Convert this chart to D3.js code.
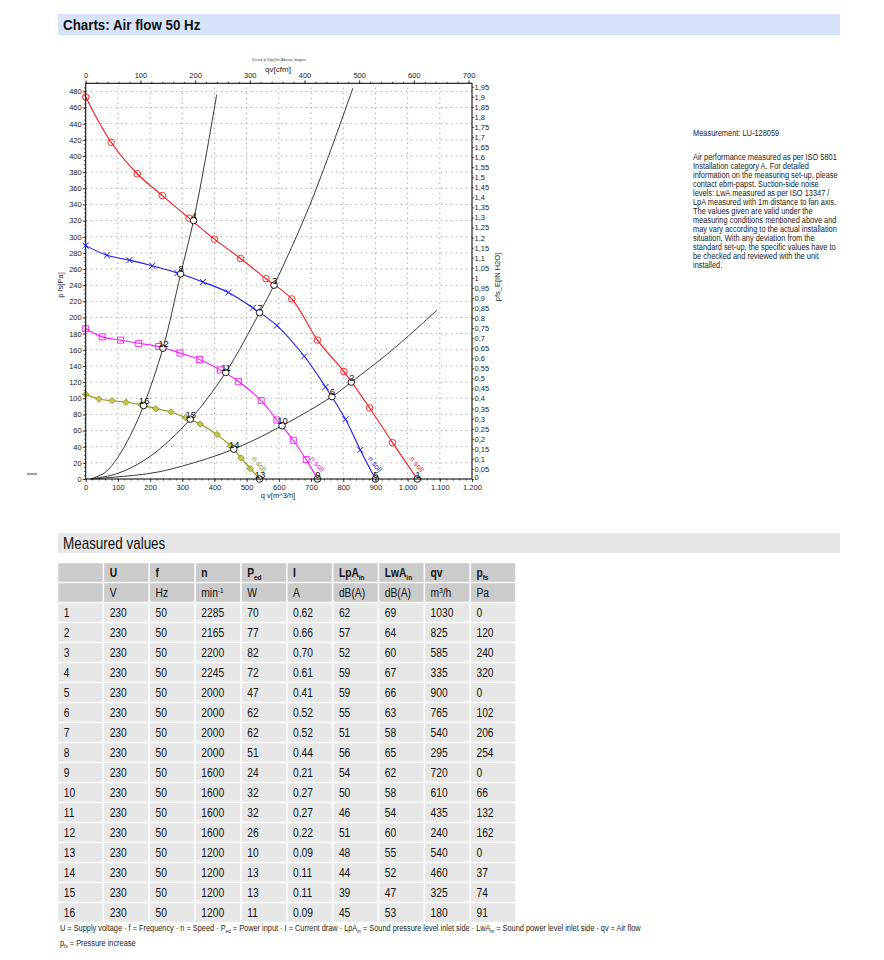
<!DOCTYPE html>
<html>
<head>
<meta charset="utf-8">
<script src="https://cdn.jsdelivr.net/npm/d3@7/dist/d3.min.js"></script>
<style>
body{margin:0;background:#fff;}
svg text{font-family:"Liberation Sans",Arial,sans-serif;}
</style>
</head>
<body>
<div id="chart"></div>
<script>
// fan curves [qv m3/h, pfs Pa]
var curveRed = [[0,473],[79,417],[160,378],[238,351],[321,323],[400,297],[481,273],[560,248],[640,223],[720,172],[802,133],[882,88],[953,45],[1030,0]];
var curveBlue = [[0,289],[66,277],[136,271],[207,264],[285,255],[364,244],[443,231],[519,212],[594,190],[679,152],[745,114],[807,74],[853,36],[900,0]];
var curveMagenta = [[0,186],[51,176],[108,172],[165,168],[227,164],[293,156],[353,148],[418,135],[474,121],[545,97],[594,73],[645,48],[685,24],[720,0]];
var curveOlive = [[0,105],[41,99],[82,97],[125,95],[172,92],[218,87],[265,83],[311,76],[356,68],[408,55],[450,41],[483,26],[511,13],[540,0]];

// system curves
var sysSteep = [[15,0],[60,8],[100,27],[140,55],[180,91],[240,162],[295,254],[335,320],[370,392],[407,476]];
var sysMid = [[15,0],[100,7],[200,28],[325,74],[435,132],[540,206],[585,240],[700,343],[830,484]];
var sysFlat = [[15,0],[200,7],[300,16],[460,37],[610,66],[765,102],[825,120],[950,159],[1091,209]];

// measured values table
var pointNo = [1,2,3,4,5,6,7,8,9,10,11,12,13,14,15,16];
var voltU = [230,230,230,230,230,230,230,230,230,230,230,230,230,230,230,230];
var freqF = [50,50,50,50,50,50,50,50,50,50,50,50,50,50,50,50];
var speedN = [2285,2165,2200,2245,2000,2000,2000,2000,1600,1600,1600,1600,1200,1200,1200,1200];
var powerPed = [70,77,82,72,47,62,62,51,24,32,32,26,10,13,13,11];
var currentI = ["0.62","0.66","0.70","0.61","0.41","0.52","0.52","0.44","0.21","0.27","0.27","0.22","0.09","0.11","0.11","0.09"];
var lpaIn = [62,57,52,59,59,55,51,56,54,50,46,51,48,44,39,45];
var lwaIn = [69,64,60,67,66,63,58,65,62,58,54,60,55,52,47,53];
var qvVals = [1030,825,585,335,900,765,540,295,720,610,435,240,540,460,325,180];
var pfsVals = [0,120,240,320,0,102,206,254,0,66,132,162,0,37,74,91];

var xTicks = [0,100,200,300,400,500,600,700,800,900,1000,1100,1200];
var cfmTicks = [0,100,200,300,400,500,600,700];

var infoLines = [
	"Air performance measured as per ISO 5801",
	"Installation category A. For detailed",
	"information on the measuring set-up, please",
	"contact ebm-papst. Suction-side noise",
	"levels: LwA measured as per ISO 13347 /",
	"LpA measured with 1m distance to fan axis.",
	"The values given are valid under the",
	"measuring conditions mentioned above and",
	"may vary according to the actual installation",
	"situation. With any deviation from the",
	"standard set-up, the specific values have to",
	"be checked and reviewed with the unit",
	"installed."
];

var svg = d3.select('#chart').append('svg')
	.attr('width',884)
	.attr('height',960);
svg.append('rect').attr('width',884).attr('height',960).attr('fill','#fff');

var de = d3.formatLocale({decimal:',',thousands:'.',grouping:[3],currency:['','']});

var x = d3.scaleLinear().domain([0,1200]).range([85.7,472]);
var y = d3.scaleLinear().domain([0,490]).range([479,83.3]);
var xCfm = d3.scaleLinear().domain([0,1200/1.699]).range(x.range());
var yIn = d3.scaleLinear().domain([0,490/249.09]).range(y.range());

// condensed text: no narrow face installed, so squeeze horizontally
function narrow(parent,px,py,size,sx){
	return parent.append('text')
		.attr('transform','translate('+px+','+py+') scale('+sx+',1)')
		.attr('font-size',size+'px').attr('fill','#111');
}

// header bars
svg.append('rect').attr('x',58).attr('y',14).attr('width',782).attr('height',21).attr('fill','#d6e3f8');
narrow(svg,63,30,15,0.89).attr('font-weight','bold').text('Charts: Air flow 50 Hz');

svg.append('rect').attr('x',58).attr('y',533).attr('width',782).attr('height',20).attr('fill','#e7e7e7');
narrow(svg,63,549,16,0.84).text('Measured values');

svg.append('line').attr('x1',27).attr('x2',37).attr('y1',474).attr('y2',474).attr('stroke','#444');

// chart
var plot = svg.append('g');

plot.append('g').selectAll('line').data(d3.range(100,1200,100)).enter().append('line')
	.attr('x1',function(d){return x(d);}).attr('x2',function(d){return x(d);})
	.attr('y1',y(0)).attr('y2',y.range()[1])
	.attr('stroke','#999').attr('stroke-width',0.8).attr('stroke-dasharray','1.5,3.5');
plot.append('g').selectAll('line').data(d3.range(20,490,20)).enter().append('line')
	.attr('y1',function(d){return y(d);}).attr('y2',function(d){return y(d);})
	.attr('x1',x(0)).attr('x2',x(1200))
	.attr('stroke','#999').attr('stroke-width',0.8).attr('stroke-dasharray','1.5,3.5');

var line = d3.line()
	.x(function(d){return x(d[0]);})
	.y(function(d){return y(d[1]);})
	.curve(d3.curveCatmullRom.alpha(0.5));

[sysSteep,sysMid,sysFlat].forEach(function(s){
	plot.append('path').attr('d',line(s)).attr('fill','none').attr('stroke','#3a3a3a').attr('stroke-width',1);
});

var fans = [
	{data:curveRed,color:'#ff1a1a',marker:'circle'},
	{data:curveBlue,color:'#1a1aff',marker:'cross'},
	{data:curveMagenta,color:'#ff1aff',marker:'square'},
	{data:curveOlive,color:'#8f8f00',marker:'diamond'}
];

fans.forEach(function(f){
	plot.append('path').attr('d',line(f.data)).attr('fill','none').attr('stroke',f.color).attr('stroke-width',1.1);
	var m = plot.append('g').selectAll('g').data(f.data.slice(0,-1)).enter().append('g')
		.attr('transform',function(d){return 'translate('+x(d[0])+','+y(d[1])+')';});
	if(f.marker==='circle'){
		m.append('circle').attr('r',3.3).attr('fill','none').attr('stroke',f.color).attr('stroke-width',0.9);
		m.append('line').attr('x1',-2).attr('y1',-2).attr('x2',2).attr('y2',2).attr('stroke',f.color).attr('stroke-width',0.8);
	} else if(f.marker==='cross'){
		m.append('path').attr('d','M-3,-3L3,3M-3,3L3,-3').attr('stroke',f.color).attr('stroke-width',1);
	} else if(f.marker==='square'){
		m.append('rect').attr('x',-3).attr('y',-3).attr('width',6).attr('height',6)
			.attr('fill','none').attr('stroke',f.color).attr('stroke-width',0.9);
	} else {
		m.append('path').attr('d','M0,-3.2L3.2,0L0,3.2L-3.2,0Z')
			.attr('fill','#c4c45a').attr('stroke',f.color).attr('stroke-width',0.8);
	}
	// rotated curve tag near the zero-pressure end
	var end = f.data[f.data.length-1];
	plot.append('text')
		.attr('transform','translate('+(x(end[0])-8)+','+(y(26)+1)+') rotate(50)')
		.attr('font-size','7.5px').attr('fill',f.color)
		.text('n soll');
});

// measured operating points
var pts = plot.append('g').selectAll('g').data(pointNo).enter().append('g')
	.attr('transform',function(d,i){return 'translate('+x(qvVals[i])+','+y(pfsVals[i])+')';});
pts.append('circle').attr('r',3.3).attr('fill','#fff').attr('stroke','#000').attr('stroke-width',0.9);
pts.append('text').attr('x',0.5).attr('y',-1.5)
	.attr('text-anchor','middle').attr('font-size','9.5px').attr('fill','#111')
	.text(function(d){return d;});

// axes
function styleAxis(g){
	g.select('.domain').remove();
	g.selectAll('line').attr('stroke','#222').attr('stroke-width',0.8);
	g.selectAll('text').attr('font-size','7.5px').attr('fill','#222').attr('font-family',null);
}

var axBottom = plot.append('g').attr('transform','translate(0,'+y(0)+')')
	.call(d3.axisBottom(x).tickValues(xTicks).tickSize(3).tickPadding(2.5).tickFormat(de.format(',')));
styleAxis(axBottom);
var axBottomMinor = plot.append('g').attr('transform','translate(0,'+y(0)+')')
	.call(d3.axisBottom(x).tickValues(d3.range(0,1201,20)).tickSize(1.5).tickFormat(''));
styleAxis(axBottomMinor);

var axTop = plot.append('g').attr('transform','translate(0,'+y.range()[1]+')')
	.call(d3.axisTop(xCfm).tickValues(cfmTicks).tickSize(3).tickPadding(2));
styleAxis(axTop);
var axTopMinor = plot.append('g').attr('transform','translate(0,'+y.range()[1]+')')
	.call(d3.axisTop(xCfm).tickValues(d3.range(0,701,20)).tickSize(1.5).tickFormat(''));
styleAxis(axTopMinor);

var axLeft = plot.append('g').attr('transform','translate('+x(0)+',0)')
	.call(d3.axisLeft(y).tickValues(d3.range(0,481,20)).tickSize(3).tickPadding(1));
styleAxis(axLeft);
var axLeftMinor = plot.append('g').attr('transform','translate('+x(0)+',0)')
	.call(d3.axisLeft(y).tickValues(d3.range(0,490,5)).tickSize(1.5).tickFormat(''));
styleAxis(axLeftMinor);

var axRight = plot.append('g').attr('transform','translate('+x(1200)+',0)')
	.call(d3.axisRight(yIn).tickValues(d3.range(0,1.96,0.05)).tickSize(2).tickPadding(0.5).tickFormat(de.format('.2~f')));
styleAxis(axRight);
// zero label sits just above the bottom tick labels
axRight.selectAll('.tick text').filter(function(d){return d===0;}).attr('dy','0.1em');

plot.append('rect').attr('x',x(0)).attr('y',y.range()[1])
	.attr('width',x(1200)-x(0)).attr('height',y(0)-y.range()[1])
	.attr('fill','none').attr('stroke','#111').attr('stroke-width',1.1);

plot.append('text').attr('x',279).attr('y',60.5)
	.attr('text-anchor','middle').attr('font-size','4px').attr('fill','#444')
	.text('Druck p f(qv)für Abrust_bogen');
plot.append('text').attr('x',278).attr('y',71.5)
	.attr('text-anchor','middle').attr('font-size','8px').attr('fill','#222')
	.text('qv[cfm]');
plot.append('text').attr('x',278).attr('y',498)
	.attr('text-anchor','middle').attr('font-size','7.5px').attr('fill','#222')
	.text('q v[m^3/h]');
plot.append('text')
	.attr('transform','translate(62.5,285) rotate(-90)')
	.attr('text-anchor','middle').attr('font-size','7.5px').attr('fill','#222')
	.text('p fs[Pa]');
plot.append('text')
	.attr('transform','translate(499.5,277) rotate(-90)')
	.attr('text-anchor','middle').attr('font-size','7.5px').attr('fill','#222')
	.text('pfs_E[IN H2O]');

// info text, squeezed so the longest line spans ~145px like the reference
var info = svg.append('g');
narrow(info,693,136,8.8,1).attr('fill','#222').text('Measurement: LU-128059');
infoLines.forEach(function(l,i){
	narrow(info,693,160+i*9,8.8,1).attr('fill','#222').text(l);
});
var widest = d3.max(info.selectAll('text').nodes(),function(n){return n.getComputedTextLength();});
var infoScale = 145/widest;
info.selectAll('text').attr('transform',function(d,i){
	return 'translate(693,'+(i===0?136:160+(i-1)*9)+') scale('+infoScale+',1)';
});

// table
var colX = d3.range(10).map(function(i){return 58.3+i*45.85;});
var rowTop = function(r){return 563.2+r*20;};
var table = svg.append('g');
var cellScale = 0.8;

var head1 = [[''],['U'],['f'],['n'],['P','ed'],['I'],['LpA','in'],['LwA','in'],['qv'],['p','fs']];
var head2 = [[''],['V'],['Hz'],['min','-1'],['W'],['A'],['dB(A)'],['dB(A)'],['m','3','/h'],['Pa']];

[head1,head2].forEach(function(h,r){
	colX.forEach(function(cx,c){
		table.append('rect').attr('x',cx).attr('y',rowTop(r)).attr('width',44.3).attr('height',18.6).attr('fill','#cbcbcb');
		var t = narrow(table,cx+5.5,rowTop(r)+13.8,12.8,cellScale).attr('font-weight',r===0?'bold':'normal');
		t.append('tspan').text(h[c][0]);
		if(h[c].length>1){
			var sup = r===1;
			t.append('tspan').attr('font-size','8px').attr('dy',sup?-4.5:3).text(h[c][1]);
			if(h[c].length>2) t.append('tspan').attr('font-size','12.8px').attr('dy',4.5).text(h[c][2]);
		}
	});
});

pointNo.forEach(function(p,i){
	var vals = [p,voltU[i],freqF[i],speedN[i],powerPed[i],currentI[i],lpaIn[i],lwaIn[i],qvVals[i],pfsVals[i]];
	colX.forEach(function(cx,c){
		table.append('rect').attr('x',cx).attr('y',rowTop(i+2)).attr('width',44.3).attr('height',18.6).attr('fill','#e7e7e7');
		narrow(table,cx+5.5,rowTop(i+2)+13.8,12.8,cellScale).text(vals[c]);
	});
});

// footnote, squeezed to the reference width
var foot = narrow(svg,60,931,8.6,1).attr('fill','#222');
[['U = Supply voltage · f = Frequency · n = Speed · P'],['ed',1],[' = Power input · I = Current draw · LpA'],['in',1],
 [' = Sound pressure level inlet side · LwA'],['in',1],[' = Sound power level inlet side · qv = Air flow']].forEach(function(s,i){
	if(s[1]){
		foot.append('tspan').attr('font-size','5.5px').attr('dy',2).text(s[0]);
	} else {
		foot.append('tspan').attr('dy',i?-2:0).text(s[0]);
	}
});
var footScale = 581/foot.node().getComputedTextLength();
foot.attr('transform','translate(60,931) scale('+footScale+',1)');
var foot2 = narrow(svg,60,946,8.6,footScale).attr('fill','#222');
foot2.append('tspan').text('p');
foot2.append('tspan').attr('font-size','5.5px').attr('dy',2).text('fs');
foot2.append('tspan').attr('dy',-2).text(' = Pressure increase');
</script>
</body>
</html>
